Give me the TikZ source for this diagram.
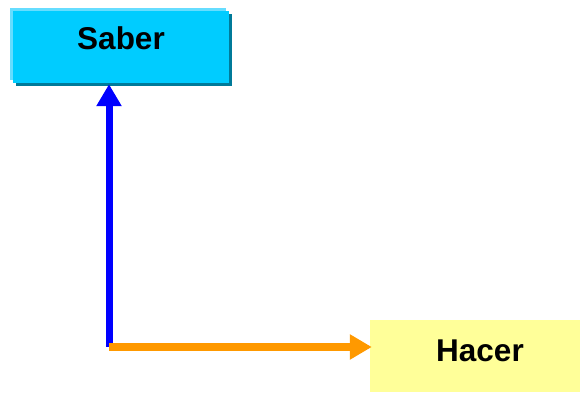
\documentclass[tikz,border=0pt]{standalone}
\usepackage{fontspec}
\setmainfont{Liberation Sans}
\usepackage{tikz}
\usetikzlibrary{positioning}
\usetikzlibrary{shadows}
\usetikzlibrary{arrows.meta}
\definecolor{sabercol}{HTML}{00CCFF}
\definecolor{saberlight}{HTML}{66DDFF}
\definecolor{saberdark}{HTML}{007A99}
\definecolor{hacercol}{HTML}{FFFF99}
\definecolor{upcol}{HTML}{0000FF}
\definecolor{rightcol}{HTML}{FF9900}
\tikzset{>={Triangle[length=22pt,width=24pt]}}
\tikzset{
  box/.style={inner sep=0pt, font=\fontsize{31.5}{36}\selectfont\bfseries},
  saberbox/.style={box, fill=sabercol, minimum width=216pt,
    text height=39pt, text depth=33pt,
    general shadow={fill=saberdark, shadow xshift=2.5pt, shadow yshift=-3pt},
    general shadow={fill=saberlight, shadow xshift=-3pt, shadow yshift=3pt}},
  hacerbox/.style={box, fill=hacercol, minimum width=220pt,
    text height=42pt, text depth=30pt},
}

\begin{document}
\begin{tikzpicture}[x=1pt, y=1pt]

% Frame
\useasboundingbox (0,0) rectangle (580,393);

% Boxes
\node[saberbox] (saber) at (121,346) {Saber};
\node[hacerbox] (hacer) at (480,37) {Hacer};

% Corner
\coordinate (corner) at (109,46);

% Arrows
\draw[->, upcol, line width=7pt, shorten >=1pt] (corner) -- (corner |- saber.south);
\draw[->, rightcol, line width=8pt] (corner) -- ([xshift=2pt]corner -| hacer.west);

\end{tikzpicture}
\end{document}
